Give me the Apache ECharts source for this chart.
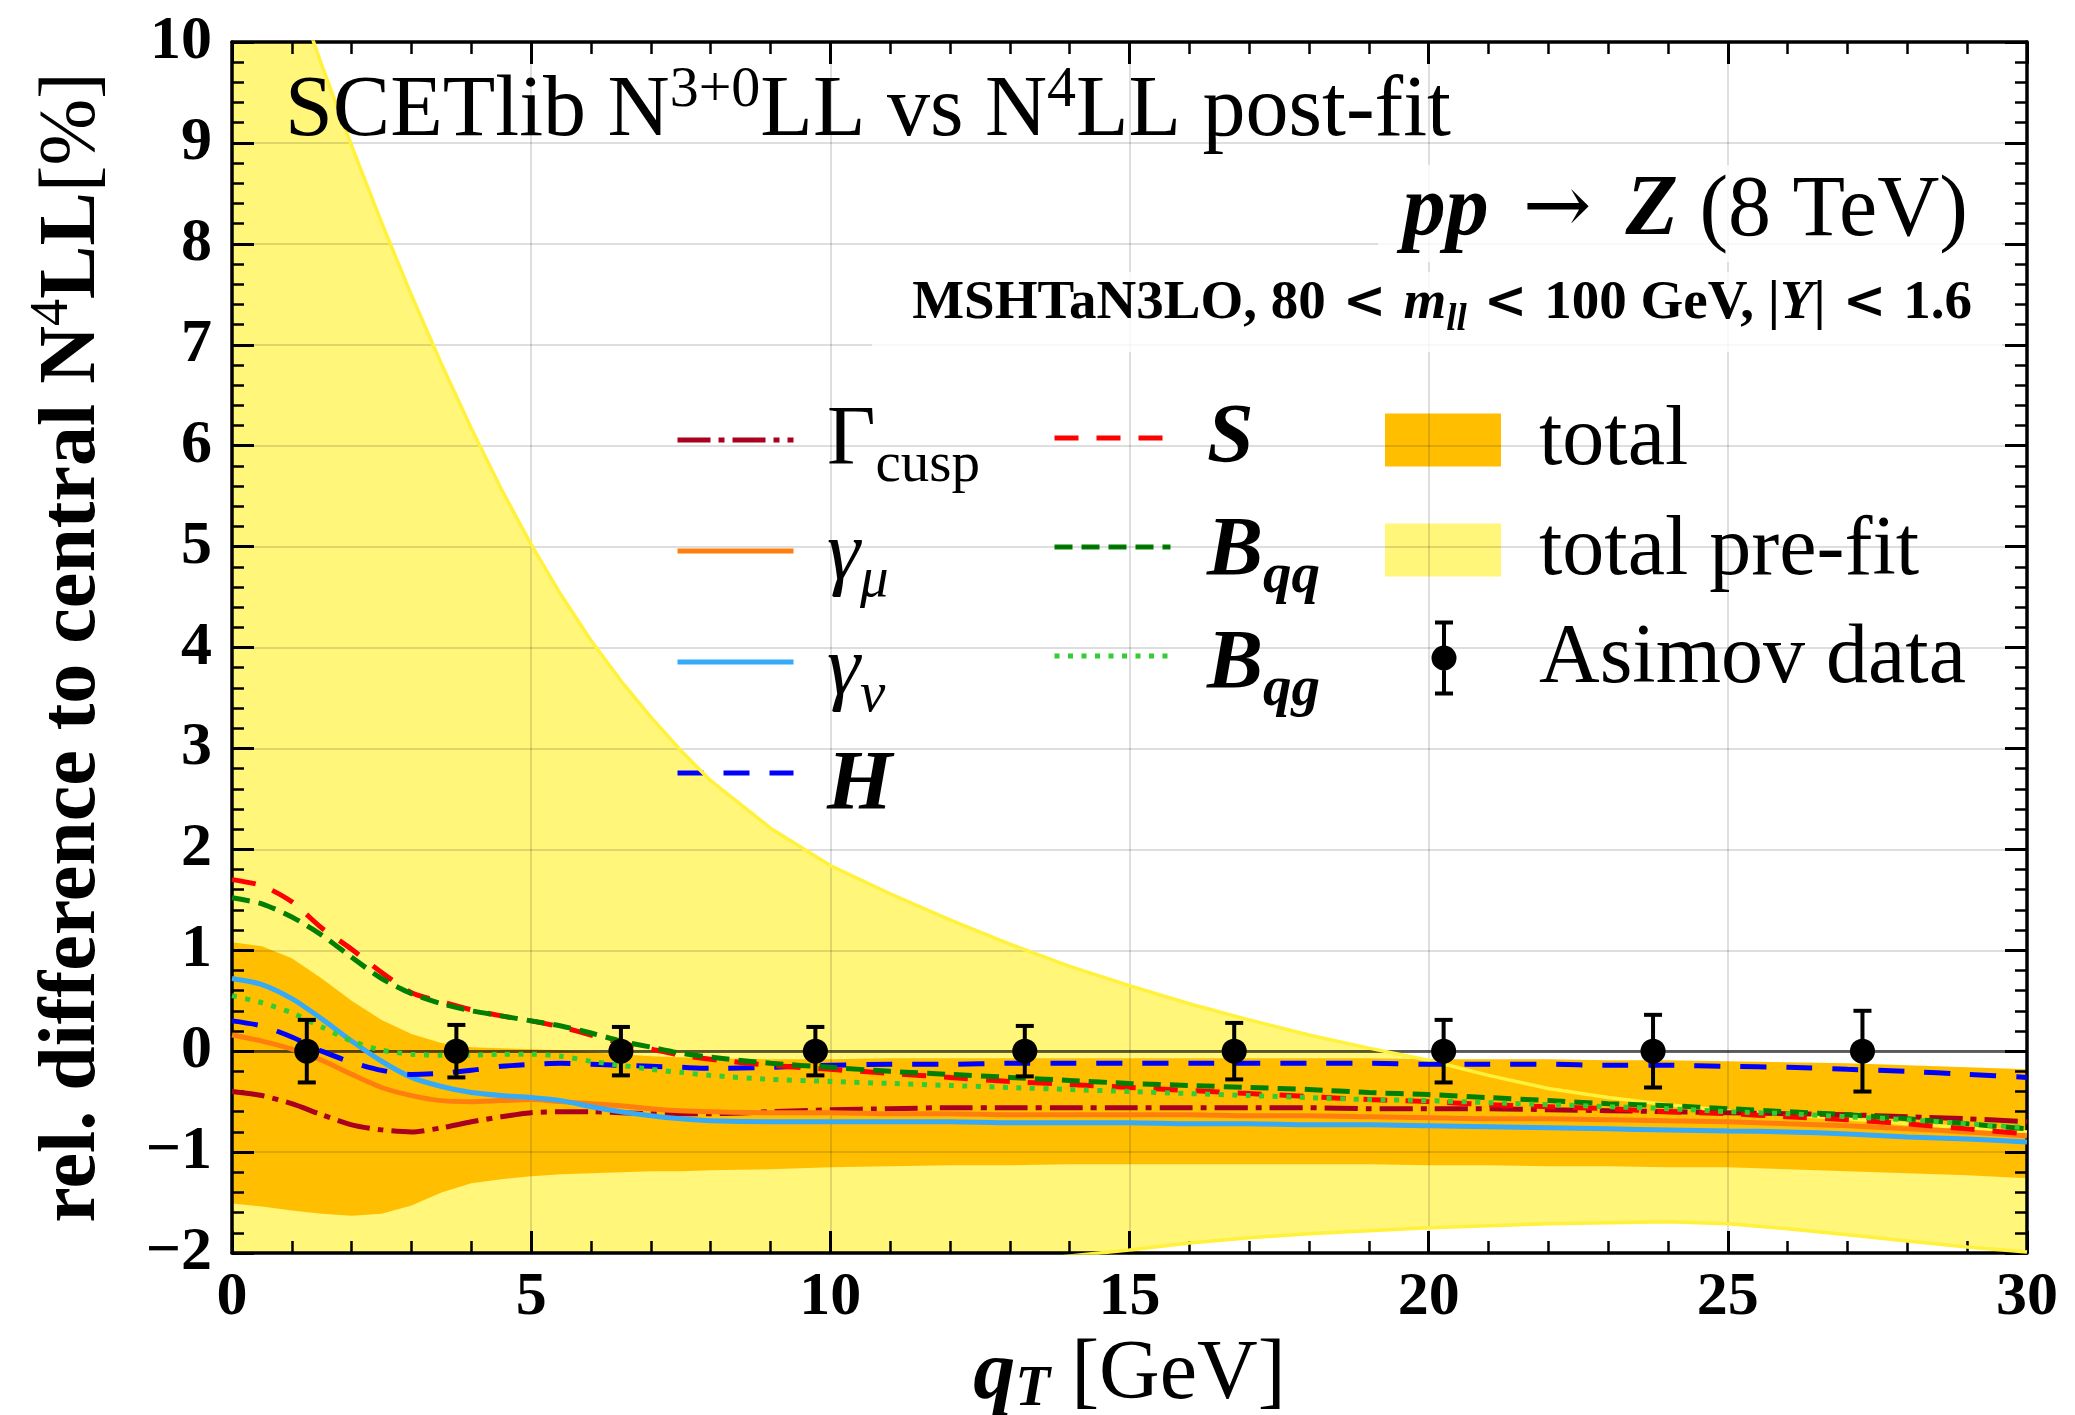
<!DOCTYPE html>
<html>
<head>
<meta charset="utf-8">
<title>SCETlib N3+0LL vs N4LL post-fit</title>
<script src="https://cdn.jsdelivr.net/npm/echarts@6/dist/echarts.min.js"></script>
<style>
  html, body { margin: 0; padding: 0; background: #ffffff; }
  #chart { width: 2075px; height: 1415px; }
</style>
</head>
<body>
<div id="chart"></div>
<script>
// ---------------------------------------------------------------------------
// Data: relative difference to the central N4LL prediction [%] versus qT [GeV]
// ---------------------------------------------------------------------------
const qT = [0, 0.5, 1, 1.5, 2, 2.5, 3, 3.5, 4, 4.5, 5, 5.5, 6, 6.5, 7, 7.5, 8,
            9, 10, 11, 12, 13, 14, 15, 16, 17, 18, 19, 20, 21, 22, 23, 24, 25, 26, 27, 28, 29, 30];

// total pre-fit uncertainty band (upper / lower edge)
const prefitUp = [12.47, 11.52, 10.62, 9.77, 8.97, 8.21, 7.49, 6.81, 6.17, 5.57, 5.02, 4.52, 4.07, 3.67, 3.31, 2.98, 2.68,
                  2.21, 1.84, 1.56, 1.30, 1.06, 0.84, 0.65, 0.47, 0.31, 0.16, 0.03, -0.09, -0.24, -0.37, -0.46, -0.53, -0.59, -0.63, -0.67, -0.72, -0.76, -0.80];
const prefitLo = [-3.0, -2.97, -2.94, -2.91, -2.88, -2.85, -2.82, -2.79, -2.76, -2.73, -2.7, -2.66, -2.62, -2.58, -2.54, -2.5, -2.46,
                  -2.38, -2.3, -2.22, -2.15, -2.09, -2.03, -1.97, -1.9, -1.85, -1.81, -1.78, -1.75, -1.73, -1.71, -1.70, -1.69, -1.71, -1.76, -1.82, -1.88, -1.94, -1.99];

// total post-fit uncertainty band
const totalUp = [1.08, 1.04, 0.92, 0.72, 0.5, 0.31, 0.17, 0.08, 0.04, 0.03, 0.02, 0.01, -0.01, -0.03, -0.05, -0.06, -0.07,
                 -0.08, -0.08, -0.07, -0.07, -0.07, -0.07, -0.07, -0.07, -0.07, -0.07, -0.07, -0.08, -0.08, -0.08, -0.09, -0.09, -0.10, -0.11, -0.12, -0.14, -0.16, -0.18];
const totalLo = [-1.51, -1.54, -1.58, -1.61, -1.63, -1.61, -1.53, -1.40, -1.31, -1.27, -1.24, -1.22, -1.21, -1.20, -1.19, -1.19, -1.18,
                 -1.17, -1.15, -1.14, -1.13, -1.13, -1.12, -1.12, -1.12, -1.12, -1.12, -1.12, -1.13, -1.13, -1.14, -1.14, -1.15, -1.15, -1.17, -1.19, -1.21, -1.23, -1.26];

// individual nuisance-parameter variations
const gammaCusp = [-0.40, -0.44, -0.52, -0.63, -0.73, -0.78, -0.80, -0.76, -0.70, -0.65, -0.61, -0.60, -0.60, -0.61, -0.62, -0.62, -0.62,
                   -0.60, -0.58, -0.57, -0.56, -0.56, -0.56, -0.56, -0.56, -0.56, -0.56, -0.57, -0.57, -0.57, -0.58, -0.59, -0.60, -0.61, -0.62, -0.63, -0.65, -0.67, -0.70];
const gammaMu = [0.16, 0.10, 0.02, -0.09, -0.23, -0.36, -0.44, -0.49, -0.50, -0.49, -0.48, -0.50, -0.52, -0.54, -0.57, -0.59, -0.60,
                 -0.61, -0.61, -0.62, -0.62, -0.63, -0.63, -0.63, -0.63, -0.64, -0.64, -0.65, -0.66, -0.67, -0.67, -0.68, -0.69, -0.70, -0.72, -0.74, -0.77, -0.80, -0.84];
const gammaNu = [0.72, 0.66, 0.52, 0.32, 0.10, -0.10, -0.26, -0.35, -0.41, -0.44, -0.46, -0.49, -0.55, -0.60, -0.64, -0.67, -0.69,
                 -0.70, -0.70, -0.70, -0.70, -0.71, -0.71, -0.71, -0.72, -0.72, -0.73, -0.73, -0.74, -0.75, -0.76, -0.77, -0.78, -0.79, -0.80, -0.82, -0.85, -0.87, -0.90];
const hardH = [0.30, 0.25, 0.14, 0.00, -0.11, -0.19, -0.23, -0.22, -0.19, -0.15, -0.13, -0.12, -0.13, -0.14, -0.15, -0.16, -0.17,
               -0.16, -0.14, -0.13, -0.13, -0.12, -0.12, -0.12, -0.12, -0.12, -0.12, -0.12, -0.13, -0.13, -0.13, -0.14, -0.14, -0.15, -0.16, -0.18, -0.20, -0.23, -0.26];
const softS = [1.70, 1.64, 1.48, 1.22, 1.01, 0.78, 0.58, 0.49, 0.41, 0.35, 0.30, 0.24, 0.16, 0.08, 0.02, -0.04, -0.08,
               -0.14, -0.18, -0.22, -0.26, -0.30, -0.33, -0.36, -0.39, -0.42, -0.45, -0.48, -0.50, -0.53, -0.55, -0.57, -0.60, -0.62, -0.65, -0.68, -0.72, -0.77, -0.82];
const beamQQ = [1.52, 1.46, 1.33, 1.15, 0.93, 0.72, 0.57, 0.47, 0.40, 0.35, 0.30, 0.25, 0.18, 0.10, 0.04, -0.02, -0.06,
                -0.12, -0.16, -0.20, -0.23, -0.26, -0.29, -0.32, -0.34, -0.36, -0.38, -0.41, -0.43, -0.46, -0.49, -0.52, -0.54, -0.57, -0.60, -0.63, -0.67, -0.72, -0.77];
const beamQG = [0.55, 0.48, 0.38, 0.24, 0.10, 0.01, -0.03, -0.04, -0.04, -0.03, -0.03, -0.05, -0.10, -0.14, -0.18, -0.21, -0.24,
                -0.28, -0.30, -0.32, -0.34, -0.36, -0.38, -0.40, -0.42, -0.44, -0.46, -0.48, -0.49, -0.51, -0.53, -0.55, -0.57, -0.60, -0.62, -0.65, -0.68, -0.72, -0.76];

// Asimov pseudo-data (bin centres, values, uncertainties)
const asimovQT  = [1.25, 3.75, 6.5, 9.75, 13.25, 16.75, 20.25, 23.75, 27.25];
const asimovVal = [0, 0, 0, 0, 0, 0, 0, 0, 0];
const asimovErr = [0.31, 0.26, 0.24, 0.24, 0.25, 0.28, 0.31, 0.36, 0.40];

// axis ticks
const xTicks = { min: 0, max: 30, step: 5 };
const yTicks = { min: -2, max: 10, step: 1 };

// ---------------------------------------------------------------------------
const SERIF = "'Liberation Serif', 'DejaVu Serif', serif";
const chart = echarts.init(document.getElementById('chart'), null, { renderer: 'canvas' });

const pairs = (ys) => qT.map((x, i) => [x, ys[i]]);
const bandRows = (up, lo) => qT.map((x, i) => [x, up[i], lo[i]]);

// closed polygon spanning a band, drawn once from the full arrays
function bandRenderer(up, lo) {
  return function (params, api) {
    if (params.dataIndex !== 0) return null;
    const pts = [];
    for (let i = 0; i < qT.length; i++) pts.push(api.coord([qT[i], up[i]]));
    for (let i = qT.length - 1; i >= 0; i--) pts.push(api.coord([qT[i], lo[i]]));
    return {
      type: 'polygon',
      shape: { points: pts },
      style: { fill: api.visual('color') }
    };
  };
}

// marker with symmetric error bar
function asimovRenderer(params, api) {
  const x = api.value(0), y = api.value(1), e = api.value(2);
  const c = api.coord([x, y]);
  const top = api.coord([x, y + e]);
  const bot = api.coord([x, y - e]);
  const cap = 9;
  const ls = { stroke: '#000', lineWidth: 4 };
  return {
    type: 'group',
    children: [
      { type: 'line', shape: { x1: c[0], y1: top[1], x2: c[0], y2: bot[1] }, style: ls },
      { type: 'line', shape: { x1: c[0] - cap, y1: top[1], x2: c[0] + cap, y2: top[1] }, style: ls },
      { type: 'line', shape: { x1: c[0] - cap, y1: bot[1], x2: c[0] + cap, y2: bot[1] }, style: ls },
      { type: 'circle', shape: { cx: c[0], cy: c[1], r: 12.5 }, style: { fill: '#000' } }
    ]
  };
}

function lineSeries(name, ys, color, dash) {
  return {
    name: name, type: 'line', data: pairs(ys), z: 10,
    smooth: 0.25, showSymbol: false, symbol: 'none',
    lineStyle: { color: color, width: 5, type: dash, cap: 'butt' },
    itemStyle: { color: color },
    emphasis: { disabled: true }, silent: true, animation: false
  };
}

// ---- rich text styles ------------------------------------------------------
// sub/superscripts are placed from the top of the line box through their box height
function richSet(size, lh, relPad, subDrop) {
  const small = Math.round(size * 0.68);
  const c = lh / 2;
  const subH = Math.round(2 * (c + (subDrop == null ? 0.29 : subDrop) * size));
  const supH = Math.max(2, Math.round(2 * (c - 0.25 * size)));
  const pad = Math.round(size * (relPad || 0.28));
  const base = { fontFamily: SERIF, fontSize: size, lineHeight: lh, color: '#000' };
  const subBase = { fontFamily: SERIF, fontSize: small, lineHeight: 1, height: subH, verticalAlign: 'top', color: '#000' };
  return {
    r:    Object.assign({}, base),
    b:    Object.assign({ fontWeight: 'bold' }, base),
    i:    Object.assign({ fontStyle: 'italic' }, base),
    bi:   Object.assign({ fontStyle: 'italic', fontWeight: 'bold' }, base),
    sub:  Object.assign({}, subBase),
    subi: Object.assign({ fontStyle: 'italic' }, subBase),
    subbi:Object.assign({ fontStyle: 'italic', fontWeight: 'bold' }, subBase),
    sup:  { fontFamily: SERIF, fontSize: small, lineHeight: 1, height: supH, verticalAlign: 'top', color: '#000' },
    rel:  { fontFamily: "'DejaVu Serif', serif", fontSize: Math.round(size * 0.95), lineHeight: lh, color: '#000', padding: [0, pad, 0, pad] },
    relb: { fontFamily: "'DejaVu Serif', serif", fontSize: Math.round(size * 0.95), lineHeight: lh, fontWeight: 'bold', color: '#000', padding: [0, pad, 0, pad] }
  };
}
// zrender graphic texts use "fill" instead of "color"
function toFill(rich) {
  const out = {};
  Object.keys(rich).forEach(k => {
    const s = Object.assign({}, rich[k]);
    s.fill = s.color; delete s.color;
    out[k] = s;
  });
  return out;
}

// ---- legend: library icons, labels typeset as rich text next to them -------
const legendLabels = {
  'Γcusp': '{r|Γ}{sub|cusp}',
  'γμ': '{i|γ}{subi|μ}',
  'γν': '{i|γ}{subi|ν}',
  'H': '{bi|H}',
  'S': '{bi|S}',
  'Bqq': '{bi|B}{subbi|qq}',
  'Bqg': '{bi|B}{subbi|qg}',
  'total': '{r|total}',
  'total pre-fit': '{r|total pre-fit}',
  'Asimov data': '{r|Asimov data}'
};
const legendCols = [
  { names: ['Γcusp', 'γμ', 'γν', 'H'], textLeft: 827, firstY: 440, step: 115 },
  { names: ['S', 'Bqq', 'Bqg'], textLeft: 1207, firstY: 438, step: 113 },
  { names: ['total', 'total pre-fit', 'Asimov data'], textLeft: 1539, firstY: 440, step: [110, 108] }
];
const legendTextRich = toFill(richSet(84, 84));

function legendBlock(names, left, top, opts) {
  return Object.assign({
    show: true, orient: 'vertical', left: left, top: top, padding: 0,
    itemWidth: 116, itemHeight: 40, itemGap: 75, selectedMode: false,
    data: names, formatter: () => ''
  }, opts || {});
}
const lineLegend = { itemStyle: { opacity: 0 }, lineStyle: { width: 5 } };

const ASIMOV_ICON = 'path://M10,0h4v75h-4z M3,0h18v4h-18z M3,71h18v4h-18z M24.5,37.5A12.5,12.5 0 1,1 -0.5,37.5A12.5,12.5 0 1,1 24.5,37.5Z';

function legendTextGraphics() {
  const out = [];
  legendCols.forEach(col => {
    let y = col.firstY;
    col.names.forEach((n, k) => {
      out.push({
        type: 'text', z: 21, x: col.textLeft, y: y + 2,
        style: { text: legendLabels[n], rich: legendTextRich, align: 'left', verticalAlign: 'middle' }
      });
      y += Array.isArray(col.step) ? (col.step[k] || 0) : col.step;
    });
  });
  return out;
}

const tickLabelStyle = { fontFamily: SERIF, fontWeight: 'bold', fontSize: 62, color: '#000' };
const gridLine = { show: true, lineStyle: { color: 'rgba(0,0,0,0.13)', width: 2 } };
const tickCfg = { show: true, inside: true, length: 22, lineStyle: { color: '#000', width: 3 } };
const minorCfg = (n) => ({ show: true, splitNumber: n, length: 12, lineStyle: { color: '#000', width: 2.5 } });
const axisLineCfg = { show: true, onZero: false, lineStyle: { color: '#000', width: 3.5 } };

const titleRich = toFill(richSet(86, 86, 0.4));
const infoRich = toFill(richSet(55, 55, 0.3));

const option = {
  backgroundColor: '#ffffff',
  animation: false,
  grid: { left: 232, top: 42, right: 48, bottom: 162, containLabel: false, outerBoundsMode: 'none' },
  xAxis: [
    {
      type: 'value', position: 'bottom', min: xTicks.min, max: xTicks.max, interval: xTicks.step, z: 5,
      axisLine: axisLineCfg, axisTick: tickCfg, minorTick: minorCfg(5), splitLine: gridLine,
      axisLabel: Object.assign({ margin: 14 }, tickLabelStyle),
      name: '{bi|q}{subbi|T}{r| [GeV]}', nameLocation: 'middle', nameGap: 68,
      nameTextStyle: { rich: richSet(84, 60, 0.28, 0.17) }
    },
    {
      type: 'value', position: 'top', min: xTicks.min, max: xTicks.max, interval: xTicks.step, z: 5,
      axisLine: axisLineCfg, axisTick: tickCfg, minorTick: minorCfg(5),
      splitLine: { show: false }, axisLabel: { show: false }
    }
  ],
  yAxis: [
    {
      type: 'value', position: 'left', min: yTicks.min, max: yTicks.max, interval: yTicks.step, z: 5,
      axisLine: axisLineCfg, axisTick: tickCfg, minorTick: minorCfg(5), splitLine: gridLine,
      axisLabel: Object.assign({ margin: 20, formatter: (v) => (v < 0 ? '\u2212' + Math.abs(v) : String(v)) }, tickLabelStyle),
      name: '{b|rel. difference to central N}{sup|4}{b|LL}{r|[%]}', nameLocation: 'middle', nameRotate: 90, nameGap: 119,
      nameTextStyle: { rich: richSet(80, 80) }
    },
    {
      type: 'value', position: 'right', min: yTicks.min, max: yTicks.max, interval: yTicks.step, z: 5,
      axisLine: axisLineCfg, axisTick: tickCfg, minorTick: minorCfg(5),
      splitLine: { show: false }, axisLabel: { show: false }
    }
  ],
  legend: [
    legendBlock(['Γcusp', 'γμ', 'γν', 'H'], 675, 420, lineLegend),
    legendBlock(['S', 'Bqq', 'Bqg'], 1052, 418, Object.assign({ itemGap: 73 }, lineLegend)),
    legendBlock(['total'], 1385, 413.5, { itemHeight: 53, icon: 'rect' }),
    legendBlock(['total pre-fit'], 1385, 523.5, { itemHeight: 53, icon: 'rect' }),
    legendBlock(['Asimov data'], 1431.5, 620.5, { itemWidth: 25, itemHeight: 75, icon: ASIMOV_ICON })
  ],
  series: [
    {
      name: 'total pre-fit', type: 'custom', z: 1, clip: true, silent: true,
      data: bandRows(prefitUp, prefitLo), encode: { x: 0, y: [1, 2] },
      itemStyle: { color: 'rgba(255,238,0,0.52)' },
      renderItem: bandRenderer(prefitUp, prefitLo)
    },
    {
      name: 'total', type: 'custom', z: 2, clip: true, silent: true,
      data: bandRows(totalUp, totalLo), encode: { x: 0, y: [1, 2] },
      itemStyle: { color: '#ffbf00' },
      renderItem: bandRenderer(totalUp, totalLo)
    },
    {
      name: 'pre-fit upper edge', type: 'line', data: pairs(prefitUp), z: 6, smooth: false,
      showSymbol: false, symbol: 'none', silent: true,
      lineStyle: { color: '#fff13c', width: 3.5 },
      markLine: {
        silent: true, symbol: ['none', 'none'], label: { show: false },
        lineStyle: { color: 'rgba(0,0,0,0.6)', width: 3, type: 'solid' },
        data: [{ yAxis: 0 }]
      }
    },
    {
      name: 'pre-fit lower edge', type: 'line', data: pairs(prefitLo), z: 6, smooth: false,
      showSymbol: false, symbol: 'none', silent: true,
      lineStyle: { color: '#fff13c', width: 3.5 }
    },
    lineSeries('Γcusp', gammaCusp, '#a8001e', [33, 8, 6, 8]),
    lineSeries('γμ', gammaMu, '#ff7f0e', 'solid'),
    lineSeries('γν', gammaNu, '#36a9f7', 'solid'),
    lineSeries('H', hardH, '#0000ff', [26, 20]),
    lineSeries('S', softS, '#ff0000', [24, 18]),
    lineSeries('Bqq', beamQQ, '#007f00', [18, 9]),
    lineSeries('Bqg', beamQG, '#33cc33', [5, 8.5]),
    {
      name: 'Asimov data', type: 'custom', z: 12, clip: false, silent: true,
      data: asimovQT.map((x, i) => [x, asimovVal[i], asimovErr[i]]),
      encode: { x: 0, y: 1 },
      itemStyle: { color: '#000' },
      renderItem: asimovRenderer
    }
  ],
  graphic: [
    { type: 'rect', z: 20, shape: { x: 1378, y: 165, width: 624, height: 97 }, style: { fill: 'rgba(255,255,255,0.8)' } },
    { type: 'rect', z: 20, shape: { x: 872, y: 272, width: 1130, height: 80 }, style: { fill: 'rgba(255,255,255,0.8)' } },
    {
      type: 'text', z: 21, x: 285, y: 112,
      style: {
        text: '{r|SCETlib N}{sup|3+0}{r|LL vs N}{sup|4}{r|LL post-fit}',
        rich: titleRich, align: 'left', verticalAlign: 'middle'
      }
    },
    {
      type: 'text', z: 21, x: 1968, y: 212,
      style: {
        text: '{bi|pp}{rel|\u2192}{bi|Z}{r| (8 TeV)}',
        rich: titleRich, align: 'right', verticalAlign: 'middle'
      }
    },
    {
      type: 'text', z: 21, x: 1972, y: 304,
      style: {
        text: '{b|MSHTaN3LO, 80}{relb|<}{bi|m}{subbi|ll}{relb|<}{b|100 GeV, |}{bi|Y}{b||}{relb|<}{b|1.6}',
        rich: infoRich, align: 'right', verticalAlign: 'middle'
      }
    }
  ].concat(legendTextGraphics())
};

chart.setOption(option);
</script>
</body>
</html>
